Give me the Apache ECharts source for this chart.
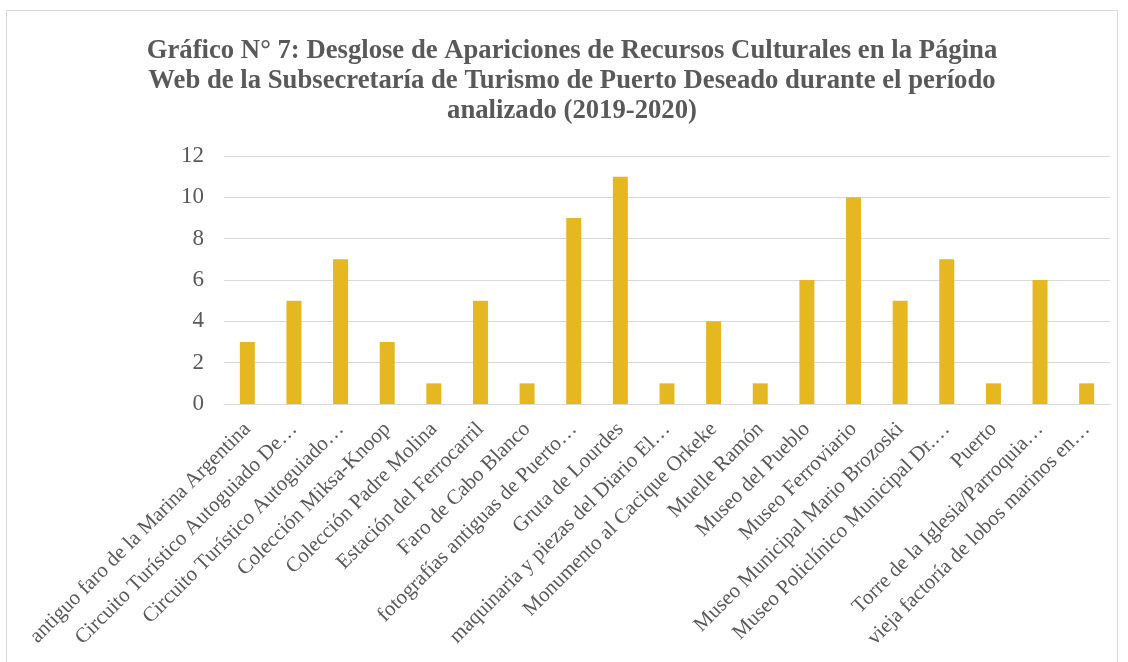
<!DOCTYPE html>
<html>
<head>
<meta charset="utf-8">
<script src="https://cdn.jsdelivr.net/npm/echarts@6/dist/echarts.min.js"></script>
<style>
    html, body { margin: 0; padding: 0; background: #fff; }
    .bar { position: absolute; left: 6px; top: 10px; width: 1112px; height: 660px; border: 1px solid #d9d9d9; box-sizing: border-box; }
</style>
</head>
<body>
<div class="bar"></div>
<script>
// categorías y valores
const categorias = [
    'antiguo faro de la Marina Argentina',
    'Circuito Turístico Autoguiado De…',
    'Circuito Turístico Autoguiado…',
    'Colección Miksa-Knoop',
    'Colección Padre Molina',
    'Estación del Ferrocarril',
    'Faro de Cabo Blanco',
    'fotografías antiguas de Puerto…',
    'Gruta de Lourdes',
    'maquinaria y piezas del Diario El…',
    'Monumento al Cacique Orkeke',
    'Muelle Ramón',
    'Museo del Pueblo',
    'Museo Ferroviario',
    'Museo Municipal Mario Brozoski',
    'Museo Policlínico Municipal Dr.…',
    'Puerto',
    'Torre de la Iglesia/Parroquia…',
    'vieja factoría de lobos marinos en…'
]
const apariciones = [3, 5, 7, 3, 1, 5, 1, 9, 11, 1, 4, 1, 6, 10, 5, 7, 1, 6, 1]
const titulo = 'Gráfico N° 7: Desglose de Apariciones de Recursos Culturales en la Página\nWeb de la Subsecretaría de Turismo de Puerto Deseado durante el período\nanalizado (2019-2020)'

;(function () {
    const myChart = echarts.init(document.querySelector('.bar'))
    const option = {
        animation: false,
        title: {
            text: titulo,
            left: 560,
            textAlign: 'center',
            top: 20,
            textStyle: {
                fontFamily: 'Liberation Serif',
                fontWeight: 'bold',
                fontSize: 26.7,
                lineHeight: 30,
                color: '#595959'
            }
        },
        grid: {
            left: 217,
            right: 7,
            top: 145,
            bottom: 265
        },
        xAxis: {
            type: 'category',
            data: categorias,
            axisLine: { lineStyle: { color: '#d9d9d9', width: 1 } },
            axisTick: { show: false },
            axisLabel: {
                rotate: 45,
                interval: 0,
                margin: 22,
                fontFamily: 'Liberation Serif',
                fontSize: 21,
                color: '#595959'
            }
        },
        yAxis: {
            type: 'value',
            min: 0,
            max: 12,
            interval: 2,
            axisLine: { show: false },
            axisTick: { show: false },
            splitLine: { lineStyle: { color: '#d9d9d9', width: 1 } },
            axisLabel: {
                margin: 20,
                fontFamily: 'Liberation Serif',
                fontSize: 23,
                color: '#595959'
            }
        },
        series: [
            {
                type: 'bar',
                data: apariciones,
                barWidth: 15,
                itemStyle: { color: '#E5B821' }
            }
        ]
    }
    myChart.setOption(option)
})()
</script>
</body>
</html>
